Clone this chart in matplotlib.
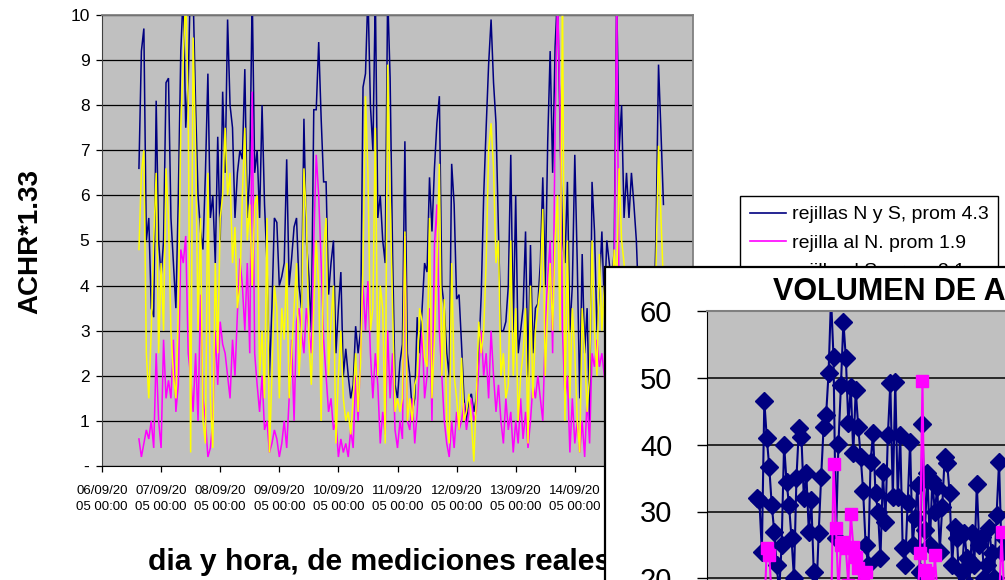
import numpy as np
import pandas as pd
import matplotlib
matplotlib.use("Agg")
import matplotlib.pyplot as plt
from matplotlib.patches import Rectangle
from matplotlib.lines import Line2D

plt.rcParams['font.family'] = ['Liberation Sans', 'DejaVu Sans']

# ---------------- data: main chart (hourly readings) ----------------
start_time = "2005-09-06 15:00"

rejillas_ns = [
    6.6, 9.2, 9.7, 5.0, 5.5, 3.5, 3.3, 8.1, 5.0, 4.2,
    5.0, 8.5, 8.6, 5.5, 4.5, 3.5, 6.0, 9.2, 10.5, 7.5,
    8.5, 11, 10.5, 8.0, 6.0, 5.2, 4.8, 6.5, 8.7, 5.5,
    6.0, 4.5, 7.3, 5.0, 8.3, 6.5, 9.9, 8.0, 7.5, 5.5,
    6.5, 7.0, 6.8, 8.8, 5.5, 6.5, 10.5, 6.5, 7.0, 5.5,
    8.0, 5.8, 4.5, 2.0, 3.5, 5.5, 5.4, 4.0, 4.2, 4.5,
    6.8, 4.0, 4.6, 5.3, 5.5, 4.0, 3.5, 7.7, 5.0, 4.2,
    3.0, 7.9, 7.9, 9.4, 7.7, 6.3, 6.3, 3.8, 4.5, 5.0,
    2.5, 3.5, 4.3, 2.0, 2.6, 2.0, 1.5, 1.8, 3.1, 2.5,
    3.0, 8.4, 8.7, 10.5, 8.0, 7.0, 10.5, 5.5, 6.0, 5.0,
    4.5, 10.5, 8.6, 4.7, 1.8, 1.5, 2.3, 2.7, 7.2, 2.5,
    2.0, 1.2, 1.5, 3.3, 2.5, 3.5, 4.5, 4.3, 6.4, 5.2,
    6.6, 7.6, 8.2, 4.0, 3.5, 2.5, 2.0, 6.7, 5.8, 3.7,
    3.8, 2.7, 1.5, 1.0, 1.5, 1.6, 1.2, 1.5, 2.5, 3.8,
    6.0, 7.5, 8.9, 9.9, 8.5, 7.6, 5.2, 3.0, 3.0, 3.2,
    4.0, 6.9, 3.0, 6.0, 2.5, 3.0, 3.5, 5.2, 2.0, 4.9,
    2.5, 3.5, 3.6, 4.5, 6.4, 4.0, 7.2, 9.2, 6.5, 9.3,
    10.5, 7.5, 5.0, 4.5, 6.3, 3.0, 4.0, 6.9, 4.5, 1.5,
    4.7, 2.5, 3.5, 1.0, 6.3, 5.2, 3.0, 4.0, 5.2, 3.5,
    5.0, 4.5, 4.0, 4.8, 10.5, 7.0, 8.0, 5.5, 6.5, 5.5,
    6.5, 5.8, 5.0, 3.5, 3.0, 2.5, 3.0, 2.0, 3.5, 3.0,
    5.2, 8.9, 7.4, 5.8,
]

rejilla_n = [
    0.6, 0.2, 0.5, 0.8, 0.6, 1.0, 0.4, 2.5, 1.0, 0.4,
    2.8, 1.5, 1.9, 1.5, 2.8, 1.2, 1.8, 4.8, 4.5, 5.1,
    2.5, 2.0, 1.2, 2.5, 1.0, 3.8, 1.5, 1.0, 0.2, 0.4,
    1.0, 3.0, 1.8, 3.2, 2.7, 2.5, 2.0, 1.5, 2.8, 2.0,
    3.4, 4.6, 4.0, 3.0, 4.5, 2.5, 8.3, 2.5, 1.8, 1.2,
    2.0, 0.8, 1.0, 0.3, 0.5, 0.8, 0.6, 0.2, 0.5, 1.0,
    0.4, 1.5, 2.8, 1.0, 3.2, 3.5, 3.0, 2.5, 3.5, 3.0,
    2.5, 5.0, 6.9, 6.0, 4.5, 2.8, 2.0, 1.2, 1.5, 0.8,
    1.0, 0.2, 0.6, 0.3, 0.5, 0.2, 0.8, 0.4, 2.0, 1.0,
    2.5, 4.0, 3.0, 4.1, 2.5, 1.5, 2.5, 1.8, 0.5, 1.2,
    0.7, 3.0, 1.5, 2.5, 0.8, 0.4, 1.0, 0.6, 5.1, 1.0,
    0.8, 1.5, 0.5, 1.2, 2.3, 3.0, 1.5, 2.0, 3.5, 1.0,
    4.9, 5.8, 3.0, 2.0, 1.0, 0.5, 0.2, 1.0, 0.4, 1.2,
    0.8, 1.0, 1.4, 0.8, 1.2, 1.5, 1.0, 1.2, 2.2, 3.0,
    2.0, 2.5, 1.5, 3.0, 2.0, 1.2, 1.8, 1.0, 0.5, 1.5,
    0.8, 1.2, 0.3, 1.0, 0.5, 1.5, 0.6, 1.2, 0.4, 1.0,
    1.8, 1.5, 2.0, 1.5, 1.0, 3.0, 4.2, 5.0, 2.5, 7.5,
    10.5, 7.8, 3.0, 1.5, 2.0, 0.3, 1.5, 0.5, 1.0, 0.3,
    1.0, 0.2, 1.5, 0.5, 2.5, 2.2, 2.8, 2.2, 2.5, 2.0,
    1.5, 2.5, 3.0, 4.0, 10.5, 3.5, 3.0, 2.5, 2.0, 3.0,
    2.5, 1.5, 2.0, 1.0, 1.5, 0.8, 1.2, 0.5, 1.0, 1.5,
    2.0, 3.0, 2.5, 2.0,
]

rejilla_s = [
    4.8, 6.5, 7.0, 2.5, 1.5, 3.0, 5.0, 6.5, 2.5, 4.5,
    3.0, 6.6, 5.5, 3.0, 2.0, 1.5, 3.5, 7.5, 9.0, 10.5,
    8.0, 0.3, 9.5, 7.0, 3.0, 5.5, 1.0, 0.5, 6.5, 1.5,
    0.4, 4.5, 2.5, 5.5, 6.0, 7.5, 6.0, 6.5, 4.5, 5.3,
    3.5, 4.0, 6.0, 7.5, 5.0, 5.8, 4.0, 5.8, 6.0, 2.0,
    3.0, 1.5, 5.5, 0.3, 2.0, 4.0, 3.5, 1.5, 3.5, 2.8,
    4.5, 1.5, 2.5, 3.5, 4.5, 2.0, 3.0, 6.6, 5.5, 2.8,
    1.8, 3.5, 5.0, 4.0, 1.0, 4.8, 5.5, 2.0, 3.2, 4.0,
    0.5, 2.0, 3.0, 1.5, 1.0, 1.2, 0.7, 1.5, 2.5, 1.2,
    2.3, 4.5, 8.2, 6.5, 3.0, 3.5, 7.5, 2.0, 4.0, 3.5,
    0.5, 8.9, 6.0, 3.5, 1.2, 1.5, 1.2, 1.5, 5.2, 1.0,
    1.5, 1.0, 1.8, 2.0, 3.5, 3.2, 2.4, 2.2, 5.5, 1.5,
    2.8, 4.5, 6.7, 2.0, 3.7, 1.0, 0.5, 4.5, 2.0, 1.5,
    0.8, 2.4, 1.0, 1.2, 1.6, 1.0, 0.1, 1.5, 3.2, 2.5,
    3.0, 4.5, 7.0, 7.6, 6.6, 4.5, 5.0, 2.0, 2.5, 1.5,
    1.8, 5.0, 2.0, 3.5, 1.0, 2.0, 2.5, 3.5, 0.5, 4.0,
    1.5, 3.0, 3.5, 4.0, 5.7, 2.0, 3.5, 4.5, 3.0, 5.0,
    6.0, 3.0, 10.5, 1.0, 5.0, 1.5, 3.5, 2.5, 1.0, 0.3,
    3.5, 2.5, 1.2, 2.0, 5.0, 3.0, 2.0, 4.7, 3.0, 4.0,
    3.0, 2.5, 3.5, 4.8, 4.0, 6.6, 5.0, 4.5, 3.5, 4.2,
    3.0, 2.5, 3.8, 2.0, 1.5, 2.5, 1.8, 2.2, 1.5, 2.5,
    4.5, 7.1, 5.5, 4.0,
]

series_labels = ["rejillas N y S, prom 4.3", "rejilla al N. prom 1.9",
                 "rejilla al S. prom 3.1"]
series_colors = ["#000080", "#FF00FF", "#FFFF00"]
axis_start, axis_end = "2005-09-06", "2005-09-16"
y_ticks = [0, 1, 2, 3, 4, 5, 6, 7, 8, 9, 10]
y_tick_labels = ["-", "1", "2", "3", "4", "5", "6", "7", "8", "9", "10"]
y_label = "ACHR*1.33"
x_label = "dia y hora, de mediciones reales"

# ---------------- data: inset chart ----------------
inset_title = "VOLUMEN DE AIRE"
inset_navy = [
    32, 31.7, 24, 46.5, 41, 36.6, 31, 27, 22, 18,
    25, 40, 34.4, 31, 26, 20, 35, 42.5, 41.2, 32,
    35.7, 27, 31.7, 21, 17, 26.8, 35.2, 42.7, 44.4, 50.7,
    62, 53.1, 26, 40.1, 48.9, 58.4, 52.9, 43.2, 48.6, 38.7,
    48.2, 42.7, 38.2, 33, 25, 22, 37.4, 41.7, 32.7, 30,
    23, 35.9, 28.4, 41.4, 49.2, 32.2, 49.4, 32.2, 41.4, 24.5,
    22, 31.2, 40.4, 25, 29, 34, 21, 43.1, 27.2, 35.7,
    25, 34.7, 30, 33.7, 24, 30.7, 38.2, 37.2, 32.7, 22,
    27.7, 26, 18, 21, 26.8, 23, 19, 26.8, 22, 34.1,
    25, 26.2, 20, 22, 27.5, 23.8, 20, 29.5, 37.4, 24, 26,
]
inset_pink = [
    14, 16, 12, 15, 24.5, 23.5, 17, 13, 11, 15,
    12, 14, 10, 13, 15, 11, 9, 12, 14, 13,
    11, 15, 12, 10, 13, 16, 12, 14, 11, 15,
    13, 37.1, 27.6, 18, 25, 25.5, 24.5, 19, 29.7, 24.7,
    23.2, 21.5, 17, 19, 21, 16, 13, 15, 12, 14,
    11, 13, 15, 12, 10, 14, 12, 16, 13, 11,
    14, 12, 15, 13, 11, 16, 23.8, 49.5, 21.2, 20.8,
    17, 15, 23.5, 18, 14, 12, 15, 13, 11, 14,
    12, 10, 13, 15, 12, 14, 11, 13, 15, 12,
    14, 11, 13, 12, 15, 13, 11, 14, 16, 26.9, 18,
]
inset_y_ticks = [0, 10, 20, 30, 40, 50, 60]

# ---------------- layout helpers ----------------
W, H = 1005, 580
fig = plt.figure(figsize=(W / 100, H / 100), dpi=100)
fig.patch.set_facecolor("white")


def fx(px):
    return px / W


def fy(py):
    return 1 - py / H


# ---------------- main chart ----------------
ax = fig.add_axes([fx(102), fy(466), fx(693) - fx(102), fy(15) - fy(466)], zorder=0)
ax.set_facecolor("#C0C0C0")
times = pd.date_range(start_time, periods=len(rejillas_ns), freq="h")
for vals, col in zip([rejillas_ns, rejilla_n, rejilla_s], series_colors):
    ax.plot(times, vals, color=col, lw=1.1, solid_joinstyle="miter")

day_ticks = pd.date_range(axis_start, axis_end, freq="D")
ax.set_xlim(day_ticks[0], day_ticks[-1])
ax.set_ylim(0, 10)
ax.set_yticks(y_ticks)
ax.set_yticklabels(y_tick_labels, fontsize=12.5)
tick_txt = [d.strftime("%d/%m/%Y %H:%M") for d in day_ticks]
ax.set_xticks(day_ticks)
ax.set_xticklabels([t[:8] + "\n" + t[8:] for t in tick_txt], fontsize=9.5,
                   linespacing=1.5)
ax.grid(axis="y", color="black", lw=0.9)
ax.grid(axis="x", visible=False)
ax.set_axisbelow(True)
ax.tick_params(axis="both", direction="out", length=4, width=0.9, color="black")
ax.tick_params(axis="y", pad=5)
ax.tick_params(axis="x", pad=9.5)
for s in ["top", "right"]:
    ax.spines[s].set_color("#808080")
    ax.spines[s].set_linewidth(1.3)
ax.spines["left"].set_color("#404040")
ax.spines["bottom"].set_color("black")

handles = [Line2D([], [], color=c, lw=1.2) for c in series_colors]
leg = ax.legend(handles, series_labels, loc="upper left",
                bbox_to_anchor=(fx(740), fy(196)), bbox_transform=fig.transFigure,
                fontsize=14, frameon=True, fancybox=False, edgecolor="black",
                framealpha=1, borderaxespad=0, borderpad=0.5, handlelength=1.85,
                handletextpad=0.3, labelspacing=0.55)
leg.get_frame().set_linewidth(1.0)

fig.text(fx(30), fy(241), y_label, rotation=90, ha="center", va="center",
         fontsize=20, fontweight="bold", zorder=0.5)
fig.text(fx(148), fy(570), x_label, ha="left", va="baseline",
         fontsize=21.7, fontweight="bold", zorder=0.5)

# ---------------- inset chart (white box on top) ----------------
fig.add_artist(Rectangle((fx(605), -0.3), 0.7, fy(267) + 0.3,
                         transform=fig.transFigure, facecolor="white",
                         edgecolor="black", lw=1.6, zorder=1))

iax = fig.add_axes([fx(707), fy(712), fx(1300) - fx(707), fy(311) - fy(712)], zorder=2)
iax.set_facecolor("#C0C0C0")
iax.plot(np.arange(len(inset_navy)), inset_navy, color="#000080", lw=1.5,
         marker="D", ms=9, mfc="#000080", mec="#000080")
iax.plot(np.arange(len(inset_pink)), inset_pink, color="#FF00FF", lw=1.5,
         marker="s", ms=9, mfc="#FF00FF", mec="#FF00FF")
iax.set_xlim(-20.2, 219.8)
iax.set_ylim(0, 60)
iax.set_yticks(inset_y_ticks)
iax.set_yticklabels([str(v) for v in inset_y_ticks], fontsize=21)
iax.set_xticks([])
iax.grid(axis="y", color="black", lw=1.1)
iax.set_axisbelow(True)
iax.tick_params(axis="y", direction="out", length=7, width=1.0, pad=18)
iax.spines["top"].set_color("#808080")
iax.spines["top"].set_linewidth(1.5)
iax.spines["left"].set_color("black")

fig.text(fx(773), fy(300), inset_title, ha="left", va="baseline",
         fontsize=22, fontweight="bold", zorder=3)

fig.savefig("out.png", dpi=100)
